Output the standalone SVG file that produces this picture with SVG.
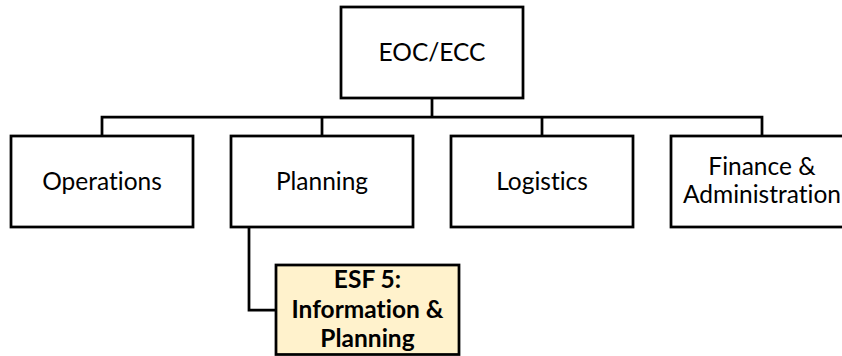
<svg xmlns="http://www.w3.org/2000/svg" width="842" height="356" viewBox="0 0 842 356">
  <style>
    .box { fill: #ffffff; stroke: #000000; stroke-width: 2.75; }
    .esf { fill: #fff2cc; stroke: #000000; stroke-width: 2.75; }
    .wire { fill: none; stroke: #000000; stroke-width: 2.75; }
    .lbl { font-family: Lato, "Open Sans", "Liberation Sans", sans-serif; font-size: 24.5px; fill: #000000; text-anchor: middle; font-variant-ligatures: none; }
    .bold { font-weight: bold; }
  </style>

  <g id="connectors">
    <path class="wire" d="M432 98 V117"/>
    <path class="wire" d="M102 136 V117 H762 V136"/>
    <path class="wire" d="M322 117 V136"/>
    <path class="wire" d="M542 117 V136"/>
    <path class="wire" d="M249 227 V310 H276"/>
  </g>

  <g id="eoc">
    <rect class="box" x="341" y="7" width="182" height="91"/>
    <text class="lbl" x="432" y="61">EOC/ECC</text>
  </g>

  <g id="operations">
    <rect class="box" x="11" y="136" width="182" height="91"/>
    <text class="lbl" x="102" y="190">Operations</text>
  </g>

  <g id="planning">
    <rect class="box" x="231" y="136" width="182" height="91"/>
    <text class="lbl" x="322" y="190">Planning</text>
  </g>

  <g id="logistics">
    <rect class="box" x="451" y="136" width="182" height="91"/>
    <text class="lbl" x="542" y="190">Logistics</text>
  </g>

  <g id="finance">
    <rect class="box" x="671" y="136" width="182" height="91"/>
    <text class="lbl" x="762" y="175">Finance &amp;</text>
    <text class="lbl" x="762" y="203">Administration</text>
  </g>

  <g id="esf5">
    <rect class="esf" x="276" y="265" width="183" height="89.5"/>
    <text class="lbl bold" x="367.5" y="288">ESF 5:</text>
    <text class="lbl bold" x="367.5" y="318">Information &amp;</text>
    <text class="lbl bold" x="367.5" y="347">Planning</text>
  </g>
</svg>
